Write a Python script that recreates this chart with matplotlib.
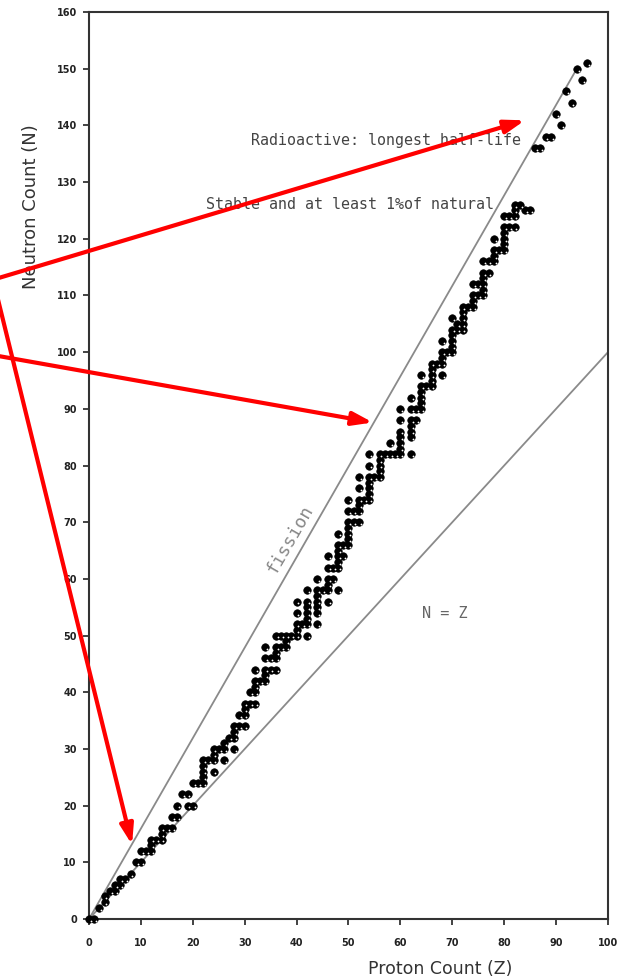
import matplotlib
matplotlib.use("Agg")
import matplotlib.pyplot as plt
import matplotlib.transforms as mtransforms

# Stable nuclides with >= 1% natural abundance (Z, N)
stable_z = [0, 1, 2, 3, 3, 4, 5, 5, 6, 6, 7, 8, 9, 10, 10, 11, 12, 12, 12, 13,
            14, 14, 14, 15, 16, 16, 17, 17, 18, 19, 19, 20, 20, 21,
            22, 22, 22, 22, 22, 23, 24, 24, 24, 24, 25, 26, 26, 26, 27,
            28, 28, 28, 28, 29, 29, 30, 30, 30, 30, 31, 31,
            32, 32, 32, 32, 32, 33, 34, 34, 34, 34, 34, 35, 35,
            36, 36, 36, 36, 36, 37, 37, 38, 38, 38, 39,
            40, 40, 40, 40, 40, 41, 42, 42, 42, 42, 42, 42, 42,
            44, 44, 44, 44, 44, 44, 44, 45, 46, 46, 46, 46, 46, 46, 47, 47,
            48, 48, 48, 48, 48, 48, 48, 49, 49,
            50, 50, 50, 50, 50, 50, 50, 51, 51,
            52, 52, 52, 52, 52, 52, 53,
            54, 54, 54, 54, 54, 54, 54, 55,
            56, 56, 56, 56, 56, 57, 58, 58, 59,
            60, 60, 60, 60, 60, 60, 60,
            62, 62, 62, 62, 62, 62, 62, 63, 63,
            64, 64, 64, 64, 64, 64, 65,
            66, 66, 66, 66, 66, 67, 68, 68, 68, 68, 68, 69,
            70, 70, 70, 70, 70, 70, 71, 71,
            72, 72, 72, 72, 72, 73, 74, 74, 74, 74, 75, 75,
            76, 76, 76, 76, 76, 76, 77, 77, 78, 78, 78, 78, 79,
            80, 80, 80, 80, 80, 80, 81, 81, 82, 82, 82, 82, 83]
stable_n = [0, 0, 2, 3, 4, 5, 5, 6, 6, 7, 7, 8, 10, 10, 12, 12, 12, 13, 14, 14,
            14, 15, 16, 16, 16, 18, 18, 20, 22, 20, 22, 20, 24, 24,
            24, 25, 26, 27, 28, 28, 26, 28, 29, 30, 30, 28, 30, 31, 32,
            30, 32, 33, 34, 34, 36, 34, 36, 37, 38, 38, 40,
            38, 40, 41, 42, 44, 42, 42, 43, 44, 46, 48, 44, 46,
            44, 46, 47, 48, 50, 48, 50, 48, 49, 50, 50,
            50, 51, 52, 54, 56, 52, 50, 52, 53, 54, 55, 56, 58,
            52, 54, 55, 56, 57, 58, 60, 58, 56, 58, 59, 60, 62, 64, 60, 62,
            58, 62, 63, 64, 65, 66, 68, 64, 66,
            66, 67, 68, 69, 70, 72, 74, 70, 72,
            70, 72, 73, 74, 76, 78, 74,
            74, 75, 76, 77, 78, 80, 82, 78,
            78, 79, 80, 81, 82, 82, 82, 84, 82,
            82, 83, 84, 85, 86, 88, 90,
            82, 85, 86, 87, 88, 90, 92, 88, 90,
            90, 91, 92, 93, 94, 96, 94,
            94, 95, 96, 97, 98, 98, 96, 98, 99, 100, 102, 100,
            100, 101, 102, 103, 104, 106, 104, 105,
            104, 105, 106, 107, 108, 108, 108, 109, 110, 112, 110, 112,
            110, 111, 112, 113, 114, 116, 114, 116, 116, 117, 118, 120, 118,
            118, 119, 120, 121, 122, 124, 122, 124, 122, 124, 125, 126, 126]

# Radioactive elements: isotope with the longest half-life (Z, N)
radio_z = [84, 85, 86, 87, 88, 89, 90, 91, 92, 93, 94, 95, 96]
radio_n = [125, 125, 136, 136, 138, 138, 142, 140, 146, 144, 150, 148, 151]

# Reference lines
fission_z = [0, 94]
fission_n = [0, 150]
nz_z = [0, 100]
nz_n = [0, 100]

x_ticks = list(range(0, 101, 10))
y_ticks = list(range(0, 161, 10))

# Red annotation arrows: (tail Z, tail N) -> (tip Z, tip N)
arrow_tails = [(-21.0, 112.1), (-21.0, 99.9), (-18.1, 111.4)]
arrow_tips = [(84.0, 140.9), (54.7, 87.6), (8.3, 13.1)]

MONO = "DejaVu Sans Mono"

fig = plt.figure(figsize=(6.21, 9.8), dpi=100)
ax = fig.add_axes([0.1433, 0.0622, 0.8357, 0.9255])
ax.set_xlim(0, 100)
ax.set_ylim(0, 160)

ax.plot(fission_z, fission_n, color="#8a8a8a", lw=1.3, zorder=1)
ax.plot(nz_z, nz_n, color="#8a8a8a", lw=1.3, zorder=1)

all_z = stable_z + radio_z
all_n = stable_n + radio_n
ax.plot(all_z, all_n, "o", color="black", ms=5.4, mec="black", mew=0.5,
        zorder=3, clip_on=False)
hl = mtransforms.offset_copy(ax.transData, fig=fig, x=1.3, y=-1.3, units="points")
ax.plot(all_z, all_n, "o", color="white", ms=1.3, mew=0, transform=hl,
        zorder=4, clip_on=False)

ax.text(57.3, 137.4, "Radioactive: longest half-life", ha="center", va="center",
        fontsize=10.8, family=MONO, color="#444444", zorder=5)
ax.text(50.3, 126.0, "Stable and at least 1%of natural", ha="center", va="center",
        fontsize=10.8, family=MONO, color="#444444", zorder=5)
ax.text(68.6, 53.9, "N = Z", ha="center", va="center", fontsize=11,
        family=MONO, color="#666666", zorder=5)
ax.text(38.7, 67.0, "fission", ha="center", va="center", fontsize=13,
        family=MONO, color="#888888", rotation=60, rotation_mode="anchor",
        zorder=5)

for (tz, tn), (hz, hn) in zip(arrow_tails, arrow_tips):
    ax.annotate("", xy=(hz, hn), xytext=(tz, tn), xycoords="data",
                textcoords="data", annotation_clip=False, zorder=6,
                arrowprops=dict(arrowstyle="-|>,head_length=0.6,head_width=0.2",
                                color="#ff0000", lw=3.0, mutation_scale=20,
                                shrinkA=0, shrinkB=0))

ax.set_xticks(x_ticks)
ax.set_yticks(y_ticks)
ax.tick_params(direction="out", length=4.5, width=1.2, labelsize=7,
               colors="#222222")
ax.tick_params(axis="x", pad=9)
ax.tick_params(axis="y", pad=4.3)
for lab in ax.get_xticklabels() + ax.get_yticklabels():
    lab.set_fontweight("bold")
for sp in ax.spines.values():
    sp.set_color("#333333")
    sp.set_linewidth(1.5)

ax.set_xlabel("Proton Count (Z)", fontsize=12.5, color="#333333")
ax.set_ylabel("Neutron Count (N)", fontsize=13, color="#333333")
ax.xaxis.set_label_coords(0.676, -0.0453)
ax.yaxis.set_label_coords(-0.0944, 0.786)

fig.savefig("out.png", dpi=100)
